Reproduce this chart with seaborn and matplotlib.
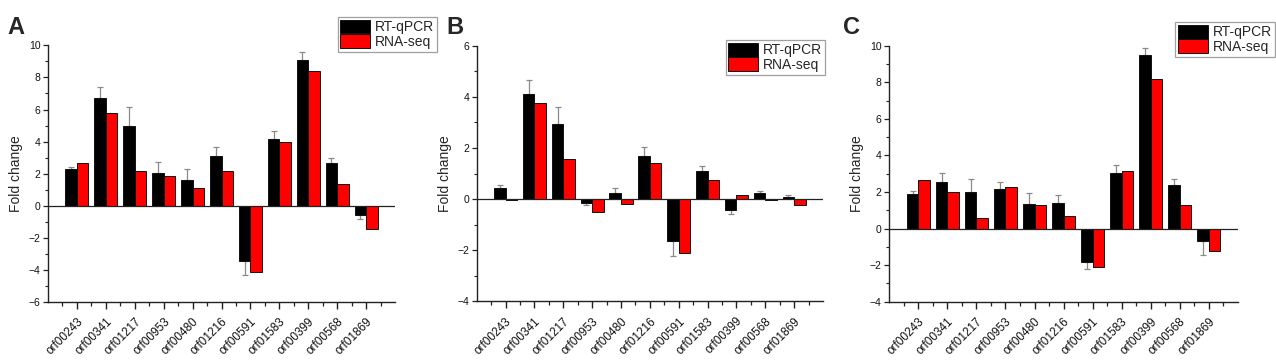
import numpy as np
import pandas as pd
import matplotlib
matplotlib.use('Agg')
import matplotlib.pyplot as plt
from matplotlib.ticker import MultipleLocator, FixedLocator
import seaborn as sns

genes = ['orf00243', 'orf00341', 'orf01217', 'orf00953', 'orf00480', 'orf01216',
         'orf00591', 'orf01583', 'orf00399', 'orf00568', 'orf01869']

# panel A
a_qpcr = [2.31, 6.69, 4.98, 2.06, 1.58, 3.10, -3.46, 4.19, 9.10, 2.65, -0.60]
a_qpcr_err = [0.10, 0.70, 1.20, 0.67, 0.69, 0.56, 0.83, 0.48, 0.50, 0.33, 0.20]
a_seq = [2.65, 5.81, 2.19, 1.85, 1.12, 2.15, -4.15, 3.98, 8.40, 1.33, -1.44]

# panel B
b_qpcr = [0.43, 4.12, 2.95, -0.14, 0.25, 1.69, -1.63, 1.11, -0.44, 0.22, 0.09]
b_qpcr_err = [0.13, 0.52, 0.65, 0.10, 0.20, 0.35, 0.60, 0.18, 0.15, 0.10, 0.07]
b_seq = [-0.05, 3.75, 1.58, -0.51, -0.20, 1.40, -2.09, 0.76, 0.17, -0.05, -0.23]

# panel C
c_qpcr = [1.87, 2.55, 2.00, 2.16, 1.35, 1.40, -1.82, 3.05, 9.51, 2.38, -0.69]
c_qpcr_err = [0.16, 0.49, 0.69, 0.37, 0.62, 0.44, 0.40, 0.44, 0.35, 0.33, 0.73]
c_seq = [2.64, 2.00, 0.55, 2.29, 1.29, 0.69, -2.09, 3.16, 8.16, 1.31, -1.24]

methods = ['RT-qPCR', 'RNA-seq']

sns.set_style('ticks')
plt.rcParams['font.family'] = ['Liberation Sans', 'DejaVu Sans']

fig = plt.figure(figsize=(12.76, 3.6), dpi=100)

panels = [
    ('A', a_qpcr, a_qpcr_err, a_seq, (-6, 10), [0.0376, 0.161, 0.272, 0.713], (0.3425, 0.953), (0.006, 0.955)),
    ('B', b_qpcr, b_qpcr_err, b_seq, (-4, 6), [0.3736, 0.163, 0.2714, 0.710], (0.6466, 0.889), (0.350, 0.955)),
    ('C', c_qpcr, c_qpcr_err, c_seq, (-4, 10), [0.697, 0.162, 0.273, 0.711], (0.999, 0.939), (0.661, 0.955)),
]

for letter, qpcr, qerr, seq, ylim, pos, leg_xy, let_xy in panels:
    ax = fig.add_axes(pos)
    df = pd.DataFrame({
        'gene': genes * 2,
        'method': [methods[0]] * len(genes) + [methods[1]] * len(genes),
        'value': list(qpcr) + list(seq),
    })
    sns.barplot(data=df, x='gene', y='value', hue='method', order=genes, hue_order=methods,
                palette=['#000000', '#ff0000'], edgecolor='#111111', linewidth=0.7,
                width=0.8, errorbar=None, saturation=1, ax=ax, zorder=3)

    # one-sided error bars on RT-qPCR bars
    bars = ax.containers[0]
    xs = [b.get_x() + b.get_width() / 2 for b in bars]
    q = np.array(qpcr)
    e = np.array(qerr)
    yerr = np.vstack([np.where(q < 0, e, 0), np.where(q >= 0, e, 0)])
    ax.errorbar(xs, q, yerr=yerr, fmt='none', ecolor='#8a8a8a', elinewidth=0.9,
                capsize=2.2, capthick=0.9, zorder=2)

    ax.axhline(0, color='#222222', lw=0.9, zorder=4)
    ax.set_xlim(-1, 11)
    ax.set_ylim(*ylim)
    ax.yaxis.set_major_locator(MultipleLocator(2))
    ax.yaxis.set_minor_locator(MultipleLocator(1))
    ax.xaxis.set_minor_locator(FixedLocator(np.arange(-0.5, 11.6, 1.0)))
    ax.set_xticks(range(len(genes)))
    ax.set_xticklabels(genes, rotation=45, ha='right', rotation_mode='anchor', fontsize=8.5)
    ax.tick_params(axis='y', which='major', length=3.5, width=0.9, labelsize=7.5, pad=2, colors='#222222')
    ax.tick_params(axis='y', which='minor', length=2, width=0.8, colors='#222222')
    ax.tick_params(axis='x', which='major', length=5, width=1.0, pad=5, colors='#222222')
    ax.tick_params(axis='x', which='minor', length=3, width=0.9, colors='#222222')
    for lab in ax.get_yticklabels() + ax.get_xticklabels():
        lab.set_color('#111111')
    for s in ['top', 'right']:
        ax.spines[s].set_visible(False)
    for s in ['left', 'bottom']:
        ax.spines[s].set_linewidth(1.0)
        ax.spines[s].set_color('#222222')
    ax.set_xlabel('')
    ax.set_ylabel('Fold change', fontsize=10, labelpad=4)

    handles, labels = ax.get_legend_handles_labels()
    ax.get_legend().remove()
    leg = ax.legend(handles, labels, loc='upper right', bbox_to_anchor=leg_xy,
                    bbox_transform=fig.transFigure, fontsize=10, frameon=True,
                    fancybox=False, edgecolor='#888888', handlelength=2.15,
                    handleheight=1.15, labelspacing=0.0, handletextpad=0.35,
                    borderpad=0.2, borderaxespad=0)
    leg.get_frame().set_linewidth(0.9)
    leg.set_zorder(10)

    fig.text(let_xy[0], let_xy[1], letter, fontsize=17, fontweight='bold', va='top', ha='left')

fig.savefig('out.png', dpi=100)
